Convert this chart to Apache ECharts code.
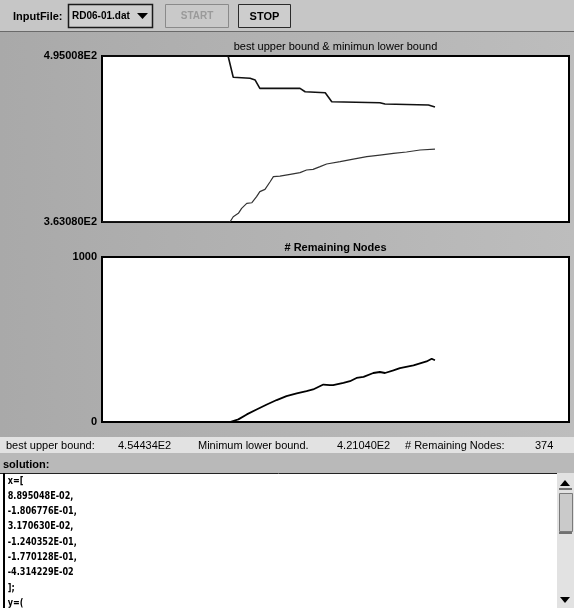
<!DOCTYPE html>
<html>
<head>
<meta charset="utf-8">
<script src="https://cdn.jsdelivr.net/npm/echarts@6/dist/echarts.min.js"></script>
<style>
  html, body { margin: 0; padding: 0; background: #b3b3b3; }
  #chart { width: 574px; height: 608px; }
</style>
</head>
<body>
<div id="chart"></div>
<script>
// Progress index (0..1000 spans the plot width)
const xUpper = [0, 270, 281, 317, 328, 338, 424, 435, 478, 492, 595, 606, 699, 713];
const upperBound = [495.008, 495.008, 478.1, 477.3, 475.9, 469.3, 469.3, 466.6, 465.8, 458.7, 457.9, 456.9, 456.1, 454.434];

const xLower = [0, 274, 281, 292, 299, 310, 321, 331, 338, 349, 360, 367, 381, 403, 424, 438, 452, 467, 481, 510, 538, 567, 595, 624, 652, 681, 713];
const lowerBound = [363.08, 363.08, 367.3, 370.0, 373.9, 377.9, 378.4, 383.2, 387.2, 389.0, 395.1, 399.1, 399.6, 401.0, 402.3, 404.4, 404.9, 407.1, 409.2, 411.0, 413.1, 415.0, 416.3, 417.6, 418.7, 420.3, 421.04];

const xNodes = [0, 274, 292, 310, 331, 353, 374, 395, 417, 438, 452, 474, 488, 495, 517, 531, 545, 560, 581, 595, 606, 624, 638, 667, 695, 706, 713];
const remainingNodes = [0, 0, 16, 46, 76, 106, 133, 157, 173, 187, 197, 227, 223, 223, 237, 247, 267, 273, 297, 303, 297, 313, 327, 343, 367, 383, 374];

const boundRange = [363.08, 495.008];
const nodeRange = [0, 1000];

const chartTitles = ['best upper bound & minimun lower bound', '# Remaining Nodes'];
const statusLabels = ['best upper bound:', 'Minimum lower bound.', '# Remaining Nodes:'];
const statusValues = ['4.54434E2', '4.21040E2', '374'];
const solutionLines = ['x=[', '8.895048E-02,', '-1.806776E-01,', '3.170630E-02,', '-1.240352E-01,', '-1.770128E-01,', '-4.314229E-02', '];', 'y=('];

const FONT = 'Liberation Sans, Arial, sans-serif';
const MONO = 'DejaVu Sans Condensed, DejaVu Sans, sans-serif';

function sci(v) {
  if (v === 0) return '0';
  const e = Math.floor(Math.log10(Math.abs(v)));
  return (v / Math.pow(10, e)).toFixed(5) + 'E' + e;
}

function pairs(xs, ys) { return xs.map((x, i) => [x, ys[i]]); }

const chart = echarts.init(document.getElementById('chart'), null, { renderer: 'canvas' });

const gridBase = { left: 102, width: 467, show: true, backgroundColor: '#ffffff', borderColor: '#000', borderWidth: 2, containLabel: false };

const yCommon = {
  type: 'value',
  axisLine: { show: false }, axisTick: { show: false }, splitLine: { show: false },
  axisLabel: { color: '#000', fontFamily: FONT, fontWeight: 'bold', fontSize: 11, margin: 5 }
};

const xCommon = { type: 'value', min: 0, max: 1000, show: false };

const lineBase = { type: 'line', showSymbol: false, symbol: 'none', silent: true, animation: false };

function label(text, x, y, font, extra) {
  return { type: 'text', x: x, y: y, style: Object.assign({ text: text, font: font, fill: '#000', verticalAlign: 'middle' }, extra || {}) };
}

// Toolbar, status row and solution text area
const graphics = [
  { type: 'rect', shape: { x: 0, y: 0, width: 574, height: 31 }, style: { fill: '#c6c6c6' } },
  { type: 'line', shape: { x1: 0, y1: 31.5, x2: 574, y2: 31.5 }, style: { stroke: '#6a6a6a', lineWidth: 1 } },
  label('InputFile:', 13, 17, 'bold 11px ' + FONT),
  { type: 'rect', shape: { x: 68.5, y: 4.5, width: 84, height: 23 }, style: { fill: '#cfcfcf', stroke: '#1a1a1a', lineWidth: 1.5 } },
  label('RD06-01.dat', 72, 16.5, 'bold 10px ' + FONT),
  { type: 'polygon', shape: { points: [[137, 13], [148, 13], [142.5, 19]] }, style: { fill: '#000' } },
  { type: 'rect', shape: { x: 165.5, y: 4.5, width: 63, height: 23 }, style: { fill: '#c9c9c9', stroke: '#8a8a8a', lineWidth: 1 } },
  label('START', 197, 16.5, 'bold 10px ' + FONT, { fill: '#9a9a9a', align: 'center' }),
  { type: 'rect', shape: { x: 238.5, y: 4.5, width: 52, height: 23 }, style: { fill: '#cdcdcd', stroke: '#2a2a2a', lineWidth: 1 } },
  label('STOP', 264.5, 16.5, 'bold 11px ' + FONT, { align: 'center' }),

  { type: 'rect', shape: { x: 0, y: 437, width: 574, height: 16 }, style: { fill: '#e2e2e2' } },
  label(statusLabels[0], 6, 445.5, '11px ' + FONT),
  label(statusValues[0], 118, 445.5, '11px ' + FONT),
  label(statusLabels[1], 198, 445.5, '11px ' + FONT),
  label(statusValues[1], 337, 445.5, '11px ' + FONT),
  label(statusLabels[2], 405, 445.5, '11px ' + FONT),
  label(statusValues[2], 535, 445.5, '11px ' + FONT),

  { type: 'rect', shape: { x: 0, y: 453, width: 574, height: 20 }, style: { fill: '#b9b9b9' } },
  label('solution:', 3, 465, 'bold 11px ' + FONT),

  { type: 'rect', shape: { x: 0, y: 473, width: 557, height: 135 }, style: { fill: '#ffffff' } },
  { type: 'line', shape: { x1: 0, y1: 473.5, x2: 557, y2: 473.5 }, style: { stroke: '#222', lineWidth: 1 } },
  { type: 'line', shape: { x1: 4, y1: 473, x2: 4, y2: 608 }, style: { stroke: '#000', lineWidth: 2 } },

  { type: 'rect', shape: { x: 557, y: 473, width: 17, height: 135 }, style: { fill: '#e2e2e2' } },
  { type: 'polygon', shape: { points: [[560, 486], [570, 486], [565, 480]] }, style: { fill: '#000' } },
  { type: 'line', shape: { x1: 559, y1: 489, x2: 572, y2: 489 }, style: { stroke: '#000', lineWidth: 1 } },
  { type: 'rect', shape: { x: 559.5, y: 493.5, width: 13, height: 38 }, style: { fill: '#cacaca', stroke: '#7a7a7a', lineWidth: 1 } },
  { type: 'line', shape: { x1: 559, y1: 533, x2: 572, y2: 533 }, style: { stroke: '#000', lineWidth: 1 } },
  { type: 'polygon', shape: { points: [[560, 597], [570, 597], [565, 603]] }, style: { fill: '#000' } }
];

solutionLines.forEach((t, i) => {
  const g = label(t, 7, 481 + i * 15.3, 'bold 10px ' + MONO);
  g.scaleX = 0.9;
  g.originX = 7;
  graphics.push(g);
});

const option = {
  backgroundColor: {
    type: 'linear', x: 0, y: 0, x2: 1, y2: 0,
    colorStops: [{ offset: 0, color: '#a9a9a9' }, { offset: 1, color: '#bdbdbd' }]
  },
  animation: false,
  title: [
    { text: chartTitles[0], left: 335.5, top: 41, padding: 0, textAlign: 'center',
      textStyle: { fontFamily: FONT, fontSize: 11, fontWeight: 'normal', color: '#000' } },
    { text: chartTitles[1], left: 335.5, top: 242, padding: 0, textAlign: 'center',
      textStyle: { fontFamily: FONT, fontSize: 11, fontWeight: 'bold', color: '#000' } }
  ],
  grid: [
    Object.assign({}, gridBase, { top: 56, height: 166 }),
    Object.assign({}, gridBase, { top: 257, height: 165 })
  ],
  xAxis: [
    Object.assign({ gridIndex: 0 }, xCommon),
    Object.assign({ gridIndex: 1 }, xCommon)
  ],
  yAxis: [
    Object.assign({}, yCommon, { gridIndex: 0, min: boundRange[0], max: boundRange[1],
      axisLabel: Object.assign({}, yCommon.axisLabel, { customValues: boundRange, formatter: v => sci(v) }) }),
    Object.assign({}, yCommon, { gridIndex: 1, min: nodeRange[0], max: nodeRange[1],
      axisLabel: Object.assign({}, yCommon.axisLabel, { customValues: nodeRange, formatter: v => String(v) }) })
  ],
  series: [
    Object.assign({}, lineBase, { name: 'best upper bound', xAxisIndex: 0, yAxisIndex: 0,
      data: pairs(xUpper, upperBound), lineStyle: { color: '#111', width: 1.6 } }),
    Object.assign({}, lineBase, { name: 'minimum lower bound', xAxisIndex: 0, yAxisIndex: 0,
      data: pairs(xLower, lowerBound), lineStyle: { color: '#333', width: 1.2 } }),
    Object.assign({}, lineBase, { name: 'remaining nodes', xAxisIndex: 1, yAxisIndex: 1,
      data: pairs(xNodes, remainingNodes), lineStyle: { color: '#000', width: 1.8 } })
  ],
  graphic: graphics
};

chart.setOption(option);
</script>
</body>
</html>
